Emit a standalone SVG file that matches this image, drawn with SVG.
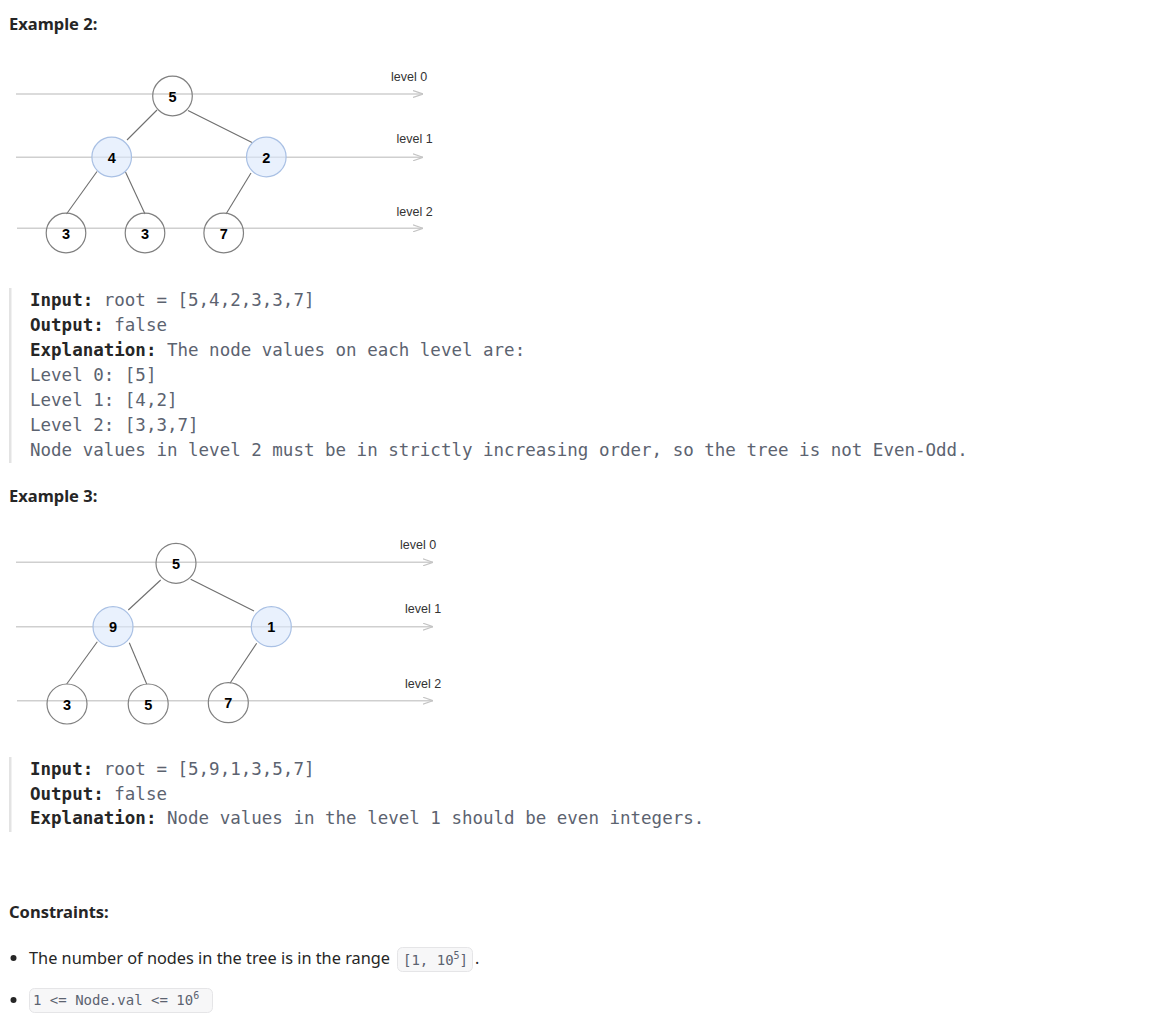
<svg xmlns="http://www.w3.org/2000/svg" width="1169" height="1023" viewBox="0 0 1169 1023">
<style>
.h{font-family:"Segoe UI","Noto Sans","Liberation Sans",Arial,sans-serif;font-weight:bold;font-size:16.5px;fill:#262626}
.lvl{font-family:"Liberation Sans",Arial,sans-serif;font-size:12.5px;fill:#333}
.lvline{stroke:#cfcfcf;stroke-width:1.5;fill:none}
.edge{stroke:#6e6e6e;stroke-width:1.1;fill:none}
.nw{fill:none;stroke:#808080;stroke-width:1.2}
.nb{fill:#dae8fc;fill-opacity:0.6;stroke:#a9c0e4;stroke-width:1.2}
.nt{font-family:"Liberation Sans",Arial,sans-serif;font-weight:bold;font-size:14.5px;fill:#000;text-anchor:middle}
.code{font-family:"DejaVu Sans Mono","Liberation Mono",monospace;font-size:17.5px;fill:#5c6370}
.code .b{font-weight:bold;fill:#262626}
.bar{fill:#e3e3e3}
.txt{font-family:"Noto Sans","Segoe UI","Liberation Sans",Arial,sans-serif;font-size:16px;fill:#262626}
.ic{font-family:"DejaVu Sans Mono","Liberation Mono",monospace;font-size:14px;fill:#5c6370}
.icbox{fill:#f7f7f8;stroke:#e5e5e7;stroke-width:1}
</style>
<defs>
<marker id="arr" viewBox="0 0 10 8" refX="10" refY="4" markerWidth="10" markerHeight="8" markerUnits="userSpaceOnUse" orient="auto">
<path d="M0,0.5 L10,4 L0,7.5" fill="none" stroke="#c4c4c4" stroke-width="1.2"/>
</marker>
</defs>
<rect width="1169" height="1023" fill="#fff"/>

<text class="h" x="9" y="30">Example 2:</text>

<g id="ex2-levels">
<line class="lvline" x1="16" y1="94" x2="423" y2="94" marker-end="url(#arr)"/>
<line class="lvline" x1="16" y1="157.3" x2="423" y2="157.3" marker-end="url(#arr)"/>
<line class="lvline" x1="17" y1="228.3" x2="423" y2="228.3" marker-end="url(#arr)"/>
<text class="lvl" x="391" y="81">level 0</text>
<text class="lvl" x="396.5" y="143">level 1</text>
<text class="lvl" x="396.5" y="216">level 2</text>
</g>

<g id="ex2-edges">
<line class="edge" x1="157" y1="110" x2="127" y2="140"/>
<line class="edge" x1="188" y1="110.5" x2="252" y2="142.5"/>
<line class="edge" x1="97" y1="171.5" x2="66.5" y2="214"/>
<line class="edge" x1="125.5" y1="172" x2="145" y2="214"/>
<line class="edge" x1="251" y1="173" x2="226" y2="214"/>
</g>

<g id="ex2-n5"><circle class="nw" cx="172.5" cy="96" r="19.8"/><text class="nt" x="172.5" y="101.5">5</text></g>
<g id="ex2-n4"><circle class="nb" cx="111.7" cy="157" r="19.8"/><text class="nt" x="111.7" y="162.5">4</text></g>
<g id="ex2-n2"><circle class="nb" cx="266.3" cy="157" r="19.8"/><text class="nt" x="266.3" y="162.5">2</text></g>
<g id="ex2-n3a"><circle class="nw" cx="66" cy="233" r="19.8"/><text class="nt" x="66" y="238.5">3</text></g>
<g id="ex2-n3b"><circle class="nw" cx="145" cy="233" r="19.8"/><text class="nt" x="145" y="238.5">3</text></g>
<g id="ex2-n7"><circle class="nw" cx="223.7" cy="233" r="19.8"/><text class="nt" x="223.7" y="238.5">7</text></g>

<g id="ex2-code">
<rect class="bar" x="9" y="288" width="2.5" height="175"/>
<text class="code" x="30" y="306"><tspan class="b">Input:</tspan> root = [5,4,2,3,3,7]</text>
<text class="code" x="30" y="331"><tspan class="b">Output:</tspan> false</text>
<text class="code" x="30" y="356"><tspan class="b">Explanation:</tspan> The node values on each level are:</text>
<text class="code" x="30" y="381">Level 0: [5]</text>
<text class="code" x="30" y="406">Level 1: [4,2]</text>
<text class="code" x="30" y="431">Level 2: [3,3,7]</text>
<text class="code" x="30" y="456">Node values in level 2 must be in strictly increasing order, so the tree is not Even-Odd.</text>
</g>

<text class="h" x="9" y="502">Example 3:</text>

<g id="ex3-levels">
<line class="lvline" x1="16" y1="562.3" x2="433" y2="562.3" marker-end="url(#arr)"/>
<line class="lvline" x1="16" y1="626.7" x2="433" y2="626.7" marker-end="url(#arr)"/>
<line class="lvline" x1="17" y1="700.7" x2="433" y2="700.7" marker-end="url(#arr)"/>
<text class="lvl" x="400" y="549">level 0</text>
<text class="lvl" x="405" y="613">level 1</text>
<text class="lvl" x="405" y="688">level 2</text>
</g>

<g id="ex3-edges">
<line class="edge" x1="160.7" y1="580" x2="128.3" y2="610"/>
<line class="edge" x1="190.7" y1="579.3" x2="254" y2="611"/>
<line class="edge" x1="97.3" y1="641.7" x2="66.7" y2="684"/>
<line class="edge" x1="129.3" y1="642.7" x2="146.7" y2="684"/>
<line class="edge" x1="256.7" y1="643.3" x2="230" y2="683.3"/>
</g>

<g id="ex3-n5"><circle class="nw" cx="176" cy="563.3" r="20"/><text class="nt" x="176" y="568.8">5</text></g>
<g id="ex3-n9"><circle class="nb" cx="113" cy="626.7" r="20"/><text class="nt" x="113" y="632.2">9</text></g>
<g id="ex3-n1"><circle class="nb" cx="271.3" cy="626.7" r="20"/><text class="nt" x="271.3" y="632.2">1</text></g>
<g id="ex3-n3"><circle class="nw" cx="67" cy="704" r="20"/><text class="nt" x="67" y="709.5">3</text></g>
<g id="ex3-n5b"><circle class="nw" cx="148.2" cy="704" r="20"/><text class="nt" x="148.2" y="709.5">5</text></g>
<g id="ex3-n7"><circle class="nw" cx="228.3" cy="702.7" r="20"/><text class="nt" x="228.3" y="708.2">7</text></g>

<g id="ex3-code">
<rect class="bar" x="9" y="757" width="2.5" height="75"/>
<text class="code" x="30" y="775"><tspan class="b">Input:</tspan> root = [5,9,1,3,5,7]</text>
<text class="code" x="30" y="799.5"><tspan class="b">Output:</tspan> false</text>
<text class="code" x="30" y="824"><tspan class="b">Explanation:</tspan> Node values in the level 1 should be even integers.</text>
</g>

<text class="h" x="9" y="918">Constraints:</text>

<g id="constraints">
<circle cx="13.5" cy="958" r="3" fill="#262626"/>
<text class="txt" x="29" y="964" textLength="361" lengthAdjust="spacingAndGlyphs">The number of nodes in the tree is in the range</text>
<rect class="icbox" x="397.5" y="947.5" width="75" height="24" rx="5"/>
<text class="ic" x="403" y="965">[1, 10<tspan font-size="10" dy="-6">5</tspan><tspan dy="6">]</tspan></text>
<text class="txt" x="475" y="964">.</text>
<circle cx="13.5" cy="1000" r="3" fill="#262626"/>
<rect class="icbox" x="29.5" y="988.5" width="183" height="24" rx="5"/>
<text class="ic" x="33" y="1005">1 &lt;= Node.val &lt;= 10<tspan font-size="10" dy="-6">6</tspan></text>
</g>
</svg>
